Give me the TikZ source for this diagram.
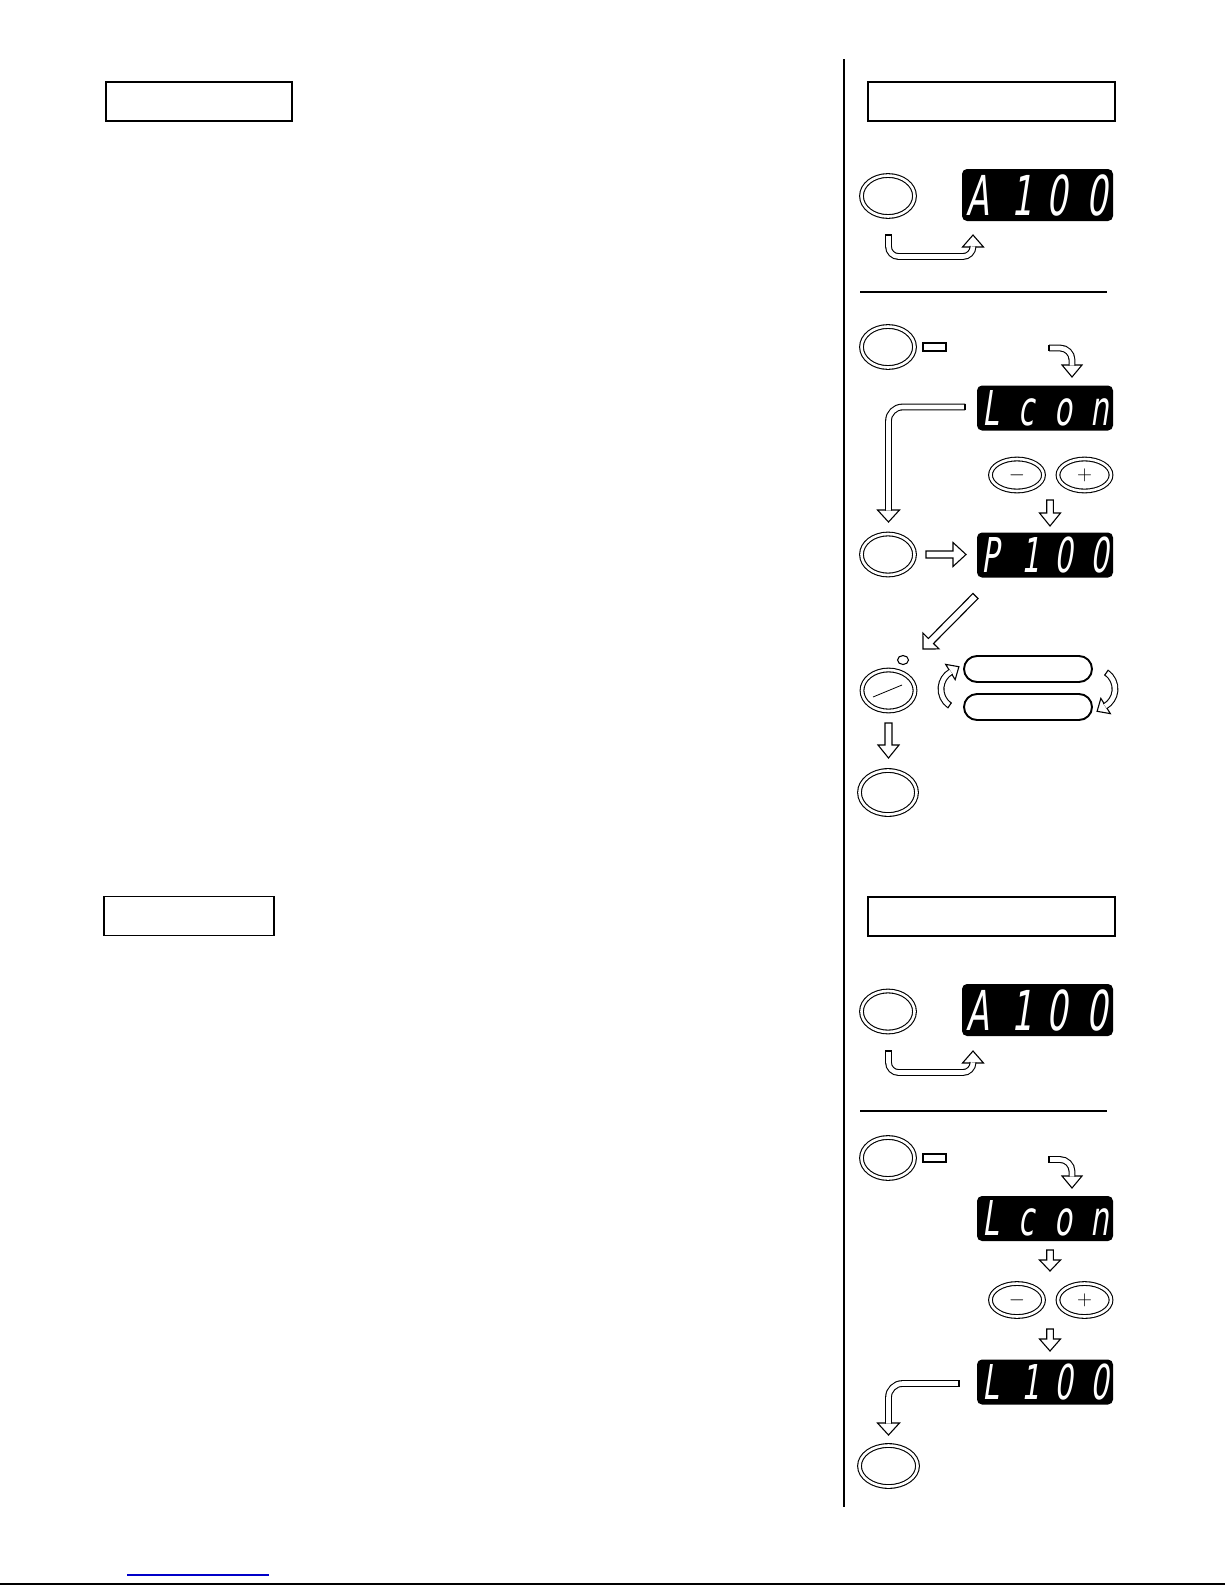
\documentclass[tikz,border=0pt]{standalone}
\usepackage{fontspec}
\usetikzlibrary{shapes.geometric,calc}
\newfontfamily\segfont[FakeStretch=0.6,FakeSlant=0.15]{DejaVu Sans}
\newcommand\segw[2]{\makebox[#1][c]{#2}}
\newcommand\hollowarrow[5]{%
  \coordinate (ha-b) at ($#2!#5!#1$);
  \filldraw[harrow] ($#1!#3!90:#2$) -- ($(ha-b)!#3!90:#2$) -- ($(ha-b)!#4!90:#2$) -- #2 -- ($(ha-b)!#4!-90:#2$) -- ($(ha-b)!#3!-90:#2$) -- ($#1!#3!-90:#2$) -- cycle;}
\newcommand\hhead[3]{\filldraw[harrow] ($#1!#3!90:#2$) -- #2 -- ($#1!#3!-90:#2$) -- cycle;}
\tikzset{
 btn/.style={ellipse, draw, double=white, double distance=2.6pt, line width=1.1pt, inner sep=0pt, minimum width=53pt, minimum height=41pt},
 disp/.style={rectangle, fill=black, rounded corners=5pt, inner sep=0pt, text=white},
 dispbig/.style={disp, minimum width=151pt, minimum height=52pt, font=\segfont\fontsize{55}{55}\selectfont},
 dispsm/.style={disp, minimum width=136pt, minimum height=45pt, font=\segfont\fontsize{48}{48}\selectfont},
 hbox/.style={rectangle, draw, line width=1.7pt, inner sep=0pt},
 harrow/.style={draw=black, fill=white, line width=1.1pt},
 dshaft/.style={draw=black, double=white, double distance=4.6pt, line width=1.1pt},
 capline/.style={draw=black, line width=1.1pt},
 pill/.style={rectangle, draw, line width=1.9pt, rounded corners=13pt, minimum width=128pt, minimum height=26pt, inner sep=0pt},
 sign/.style={font=\fontsize{20}{20}\selectfont},
 bar/.style={rectangle, draw, line width=1.2pt, minimum width=23pt, minimum height=8pt, inner sep=0pt},
}
\begin{document}
\begin{tikzpicture}[x=1pt,y=-1pt]
\useasboundingbox (0,0) rectangle (1225,1585);
\fill[white] (0,0) rectangle (1225,1585);

% frame lines
\draw[line width=1.5pt] (844,59) -- (844,1507);
\draw[line width=2pt] (0,1584) -- (1225,1584);
\draw[line width=1.5pt, color={rgb,255:red,0;green,0;blue,200}] (127,1575) -- (269,1575);

% header boxes
\node[hbox, minimum width=186pt, minimum height=39pt] (lbox1) at (199,101.5) {};
\node[hbox, minimum width=170pt, minimum height=39pt] (lbox2) at (189,916) {};
\node[hbox, minimum width=247pt, minimum height=39pt] (rbox1) at (991.5,101.5) {};
\node[hbox, minimum width=247pt, minimum height=39pt] (rbox2) at (991.5,916.5) {};

% separators
\draw[line width=1.2pt] (860,292) -- (1107,292);
\draw[line width=1.2pt] (860,1111) -- (1107,1111);

% ---------- section 1 ----------
\node[btn] (b1) at (888,196) {};
\node[dispbig] (d1) at (1037.5,195) {\hspace*{-4.5pt}\segw{40pt}{A}\segw{40pt}{\hspace{9pt}1}\segw{40pt}{0}\segw{40pt}{0}\hspace*{-4.5pt}};
\hhead{(973,247)}{(973,235)}{10.5pt}
\draw[dshaft, rounded corners=10pt] (888.5,235) -- (888.5,256.5) -- (973,256.5) -- (973,246.4);
\draw[capline] (885.1,235) -- (891.9,235);

% ---------- section 2 ----------
\node[btn] (b2) at (888,347) {};
\node[bar] (bar1) at (934.5,347) {};
\hhead{(1072,365)}{(1072,377)}{10pt}
\draw[dshaft, rounded corners=12pt] (1049,348) -- (1072,348) -- (1072,365.6);
\draw[capline] (1049,344.6) -- (1049,351.4);
\node[dispsm] (d2) at (1045,408) {\hspace*{-5pt}\segw{36.5pt}{L}\segw{36.5pt}{c}\segw{36.5pt}{o}\segw{36.5pt}{n}\hspace*{-5pt}};
\hhead{(888.5,510)}{(888.5,522)}{11pt}
\draw[dshaft, rounded corners=14pt] (965,407) -- (888.5,407) -- (888.5,510.6);
\draw[capline] (965,403.6) -- (965,410.4);
\node[btn, minimum height=32pt, sign] (m1) at (1017,475) {$-$};
\node[btn, minimum height=32pt, sign] (p1) at (1084.5,475) {$+$};
\hollowarrow{(1050,500)}{(1050,526)}{3.3pt}{10.5pt}{13pt}
\node[btn] (b3) at (888,554.5) {};
\hollowarrow{(926,554.5)}{(966,554.5)}{3.5pt}{12pt}{13pt}
\node[dispsm] (d3) at (1045,555) {\hspace*{-5pt}\segw{36.5pt}{P}\segw{36.5pt}{\hspace{8pt}1}\segw{36.5pt}{0}\segw{36.5pt}{0}\hspace*{-5pt}};

% ---------- section 3 ----------
\hollowarrow{(975.5,596)}{(923,649)}{3.6pt}{11.3pt}{11.3pt}
\node[ellipse, draw, line width=1.1pt, minimum width=11pt, minimum height=9pt, inner sep=0pt] (led) at (903,660) {};
\node[btn] (b4) at (888.5,690.5) {};
\draw[line width=0.8pt] (873,697) -- (902,685);
\hollowarrow{(888.5,723)}{(888.5,758)}{3.5pt}{10.5pt}{13pt}
\node[btn, minimum width=57pt, minimum height=44pt] (b5) at (888,792.5) {};
\node[pill] (pl1) at (1028,669) {};
\node[pill] (pl2) at (1028,707) {};
% left circular arrow
\hhead{(950.4,672.0)}{(958.9,666.7)}{9pt}
\draw[dshaft] (949.5,705.4) arc[start angle=125, end angle=239.7, radius=20];
\draw[capline] (951.5,702.6) -- (947.6,708.2);
% right circular arrow
\hhead{(1105.6,706.0)}{(1097.1,711.3)}{9pt}
\draw[dshaft] (1106.5,672.6) arc[start angle=305, end angle=419.7, radius=20];
\draw[capline] (1104.5,675.4) -- (1108.4,669.8);

% ---------- section 4 ----------
\node[btn] (b6) at (888,1011.5) {};
\node[dispbig] (d4) at (1037.5,1010) {\hspace*{-4.5pt}\segw{40pt}{A}\segw{40pt}{\hspace{9pt}1}\segw{40pt}{0}\segw{40pt}{0}\hspace*{-4.5pt}};
\hhead{(973,1063)}{(973,1051)}{10.5pt}
\draw[dshaft, rounded corners=10pt] (888.5,1051) -- (888.5,1072.5) -- (973,1072.5) -- (973,1062.4);
\draw[capline] (885.1,1051) -- (891.9,1051);

% ---------- section 5 ----------
\node[btn] (b7) at (888,1158) {};
\node[bar] (bar2) at (934.5,1158) {};
\hhead{(1072,1176)}{(1072,1188)}{10pt}
\draw[dshaft, rounded corners=12pt] (1049,1159.5) -- (1072,1159.5) -- (1072,1176.6);
\draw[capline] (1049,1156.1) -- (1049,1162.9);
\node[dispsm] (d5) at (1045,1218.5) {\hspace*{-5pt}\segw{36.5pt}{L}\segw{36.5pt}{c}\segw{36.5pt}{o}\segw{36.5pt}{n}\hspace*{-5pt}};
\hollowarrow{(1050,1250)}{(1050,1271)}{3.3pt}{10.5pt}{11pt}
\node[btn, minimum height=33pt, sign] (m2) at (1017,1300) {$-$};
\node[btn, minimum height=33pt, sign] (p2) at (1084.5,1300) {$+$};
\hollowarrow{(1050,1329)}{(1050,1351)}{3.3pt}{10.5pt}{12pt}
\node[dispsm] (d6) at (1045,1382) {\hspace*{-5pt}\segw{36.5pt}{L}\segw{36.5pt}{\hspace{8pt}1}\segw{36.5pt}{0}\segw{36.5pt}{0}\hspace*{-5pt}};
\hhead{(888.5,1423)}{(888.5,1435)}{11pt}
\draw[dshaft, rounded corners=14pt] (959,1383.5) -- (888.5,1383.5) -- (888.5,1423.6);
\draw[capline] (959,1380.1) -- (959,1386.9);
\node[btn, minimum width=58pt, minimum height=41pt] (b8) at (888.5,1466) {};
\end{tikzpicture}
\end{document}
